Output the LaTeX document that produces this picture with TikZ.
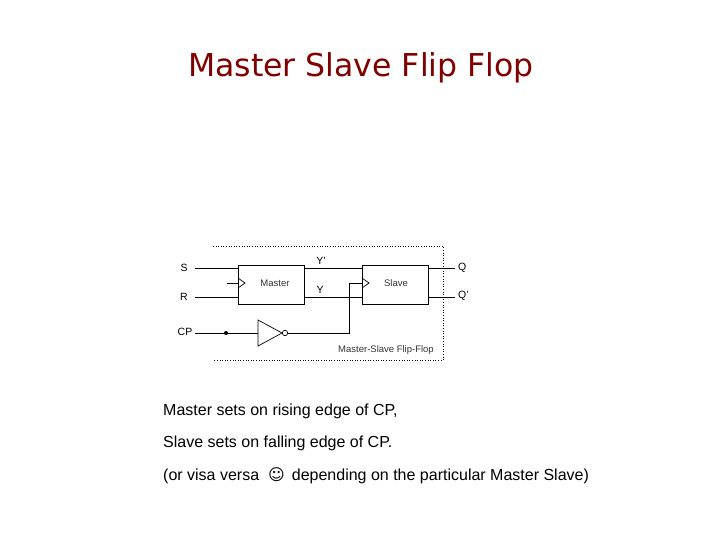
\documentclass[tikz,border=0pt]{standalone}
\usepackage{fontspec}
\setmainfont{Liberation Sans}
\newfontfamily\djv{DejaVu Sans}
\definecolor{titlered}{RGB}{128,0,0}
\begin{document}
\begin{tikzpicture}[x=1pt,y=-1pt,
  wire/.style={line width=0.7pt},
  box/.style={draw,line width=0.7pt,minimum width=66pt,minimum height=39pt,inner sep=0pt},
  lbl/.style={font=\fontsize{10.5}{12}\selectfont,inner sep=1pt},
  small/.style={font=\fontsize{9.5}{11}\selectfont,inner sep=0pt,text=black!80},
  body/.style={font=\fontsize{16}{18}\selectfont,anchor=west,inner sep=0pt}]
\useasboundingbox (0,0) rectangle (720,540);
\node[font=\djv\fontsize{31.5}{34}\selectfont,text=titlered] (title) at (361,68) {Master Slave Flip Flop};
% dotted frame
\draw[dotted,line width=0.6pt] (213,246) -- (443,246) -- (443,360) -- (213,360);
% boxes
\node[box] (m) at (271,284.5) {};
\node[box] (s) at (395,284.5) {};
\node[small] (mt) at (275,283) {Master};
\node[small] (st) at (396,283) {Slave};
% clock triangles
\draw[wire] (238,278) -- (245,283) -- (238,288);
\draw[wire] (362,278) -- (369,283) -- (362,288);
% inputs
\node[lbl] (S) at (184,268) {S};
\node[lbl] (R) at (184,297) {R};
\node[lbl] (CP) at (185,332) {CP};
\coordinate (mS) at (238,268);
\coordinate (mR) at (238,297);
\draw[wire] (195,268) -- (mS);
\draw[wire] (195,297) -- (mR);
\coordinate (mc) at (227,283);
\coordinate (mcin) at (238,283);
\draw[wire] (mc) -- (mcin);
% Y lines
\draw[wire] (304,268) -- (362,268);
\draw[wire] (304,297) -- (362,297);
\node[lbl] (Yp) at (321,261) {Y'};
\node[lbl] (Y) at (320,290) {Y};
% outputs
\draw[wire] (428,268) -- (455,268);
\draw[wire] (428,297) -- (455,297);
\node[lbl,anchor=west] (Q) at (457,268) {Q};
\node[lbl,anchor=west] (Qp) at (457,296) {Q'};
% CP path and inverter
\coordinate (dot) at (226,333);
\fill (dot) circle (2);
\draw[wire] (195,333) -- (258,333);
\draw[wire] (258,320) -- (282,333) -- (258,346) -- cycle;
\draw[wire] (285,333) circle (2.7);
\coordinate (sc) at (362,283);
\draw[wire] (287.7,333) -- (349,333) -- (349,283) -- (sc);
\node[small] (ff) at (386,350) {Master-Slave Flip-Flop};
% body text
\node[body] (t1) at (163,411) {Master sets on rising edge of CP,};
\node[body] (t2) at (163,443) {Slave sets on falling edge of CP.};
\node[body] (t3) at (163,476) {(or visa versa \ {\djv ☺} \,depending on the particular Master Slave)};
\end{tikzpicture}
\end{document}
